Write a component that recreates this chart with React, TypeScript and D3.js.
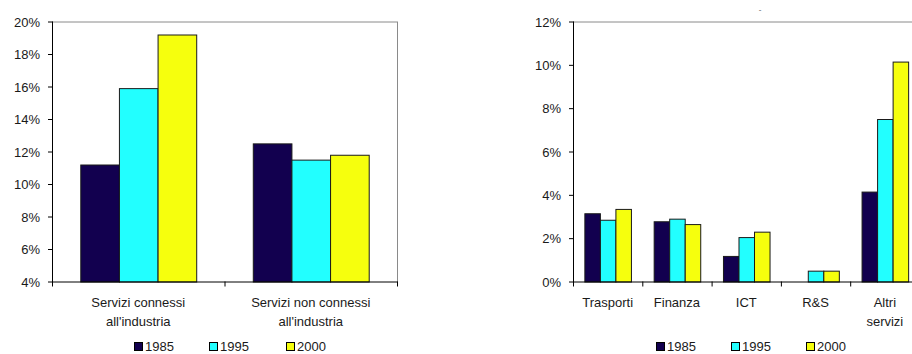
import React from "react";
import * as d3 from "d3";

// Series years and colours
const years = ["1985", "1995", "2000"];
const colors = ["#12004f", "#22ffff", "#f6ff0d"];

// Left panel: share of services linked / not linked to industry
const leftCategories = [["Servizi connessi", "all'industria"], ["Servizi non connessi", "all'industria"]];
const left1985 = [11.2, 12.5];
const left1995 = [15.9, 11.5];
const left2000 = [19.2, 11.8];
const leftTicks = [4, 6, 8, 10, 12, 14, 16, 18, 20];

// Right panel: breakdown by service sector
const rightCategories = [["Trasporti"], ["Finanza"], ["ICT"], ["R&S"], ["Altri", "servizi"]];
const right1985 = [3.15, 2.78, 1.18, 0, 4.15];
const right1995 = [2.85, 2.9, 2.05, 0.5, 7.5];
const right2000 = [3.35, 2.65, 2.3, 0.5, 10.15];
const rightTicks = [0, 2, 4, 6, 8, 10, 12];

const FONT = "'Liberation Sans', Arial, sans-serif";

type PanelProps = {
  categories: string[][];
  series: number[][];
  ticks: number[];
  x0: number;
  x1: number;
  yTop: number;
  yBottom: number;
  legendX: number[];
};

function Panel({ categories, series, ticks, x0, x1, yTop, yBottom, legendX }: PanelProps) {
  const keys = categories.map((c) => c.join(" "));
  const y = d3
    .scaleLinear()
    .domain([ticks[0], ticks[ticks.length - 1]])
    .range([yBottom, yTop]);
  const x = d3.scaleBand<string>().domain(keys).range([x0, x1]).padding(0);
  const groupW = x.bandwidth() * 0.672;
  const sub = d3.scaleBand<string>().domain(years).range([0, groupW]).padding(0);
  const base = y(ticks[0]);
  const boundaries = [x0, ...keys.map((k) => (x(k) as number) + x.bandwidth())];
  const fmt = (d: number) => `${d}%`;

  return (
    <g fontFamily={FONT} fontSize={13} fill="#1a1a1a">
      {/* plot frame: top and right edges */}
      <line x1={x0} x2={x1} y1={yTop + 0.5} y2={yTop + 0.5} stroke="#8a8a8a" strokeWidth={1} />
      <line x1={x1 + 0.5} x2={x1 + 0.5} y1={yTop} y2={base} stroke="#8a8a8a" strokeWidth={1} />

      {/* bars */}
      {keys.map((k, ci) => {
        const gx = (x(k) as number) + (x.bandwidth() - groupW) / 2;
        return years.map((yr, si) => {
          const v = series[si][ci];
          if (v <= ticks[0]) return null;
          const top = y(v);
          return (
            <rect
              key={k + yr}
              x={gx + (sub(yr) as number) + 0.5}
              y={top + 0.5}
              width={sub.bandwidth()}
              height={base - top}
              fill={colors[si]}
              stroke="#1a1a1a"
              strokeWidth={1}
            />
          );
        });
      })}

      {/* y axis */}
      <line x1={x0 + 0.5} x2={x0 + 0.5} y1={yTop} y2={base + 0.5} stroke="#000" />
      {ticks.map((t) => (
        <g key={t}>
          <line x1={x0 - 4} x2={x0 + 0.5} y1={y(t) + 0.5} y2={y(t) + 0.5} stroke="#000" />
          <text x={x0 - 12} y={y(t) + 5} textAnchor="end">
            {fmt(t)}
          </text>
        </g>
      ))}

      {/* x axis */}
      <line x1={x0} x2={x1 + 1} y1={base + 0.5} y2={base + 0.5} stroke="#000" />
      {boundaries.map((b, i) => (
        <line key={i} x1={b + 0.5} x2={b + 0.5} y1={base} y2={base + 5} stroke="#000" />
      ))}
      {categories.map((lines, ci) => (
        <text key={keys[ci]} x={(x(keys[ci]) as number) + x.bandwidth() / 2} y={base + 25} textAnchor="middle">
          {lines.map((l, li) => (
            <tspan key={li} x={(x(keys[ci]) as number) + x.bandwidth() / 2} dy={li === 0 ? 0 : 19.5}>
              {l}
            </tspan>
          ))}
        </text>
      ))}

      {/* legend */}
      {years.map((yr, si) => (
        <g key={yr}>
          <rect x={legendX[si] + 0.5} y={342.5} width={8} height={8} fill={colors[si]} stroke="#000" />
          <text x={legendX[si] + 11} y={351}>
            {yr}
          </text>
        </g>
      ))}
    </g>
  );
}

export default function App() {
  return (
    <svg
      width={912}
      height={354}
      viewBox="0 0 912 354"
      style={{ position: "absolute", left: 0, top: 0, background: "#fff" }}
    >
      <rect width={912} height={354} fill="#fff" />
      <Panel
        categories={leftCategories}
        series={[left1985, left1995, left2000]}
        ticks={leftTicks}
        x0={52}
        x1={397}
        yTop={21.5}
        yBottom={281.5}
        legendX={[134, 209, 286]}
      />
      <Panel
        categories={rightCategories}
        series={[right1985, right1995, right2000]}
        ticks={rightTicks}
        x0={573}
        x1={919.5}
        yTop={21.5}
        yBottom={281.5}
        legendX={[656, 731, 806]}
      />
      <text x={760} y={12} fontFamily={FONT} fontSize={8} fill="#555" textAnchor="middle">
        -
      </text>
    </svg>
  );
}
